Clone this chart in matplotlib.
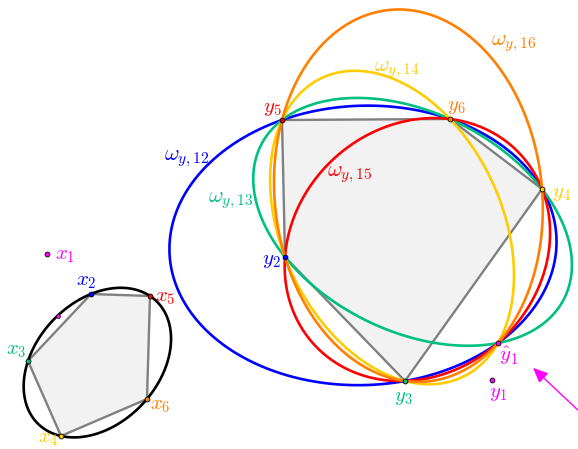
import numpy as np
import matplotlib
matplotlib.use("Agg")
import matplotlib.pyplot as plt

plt.rcParams['mathtext.fontset'] = 'cm'

# point positions (pixel coords, y downwards)
x_pts = {1: (47, 254), 2: (91, 294), 3: (28, 361), 4: (61, 436), 5: (150, 296), 6: (147, 399)}
x_hat1 = (58, 316)
y_pts = {1: (492, 380), 2: (285, 257), 3: (405, 381), 4: (542, 189), 5: (282, 120), 6: (450, 119)}
y_hat1 = (498, 343)

x_poly = [2, 5, 6, 4, 3]
y_poly = [5, 6, 4, 3, 2]

pt_colors = {1: '#ff00ff', 2: '#0000ff', 3: '#00c080', 4: '#ffcc00', 5: '#ff0000', 6: '#ff8000'}

# label offsets (dx, dy) from the point
x_lab = {1: (18, 1), 2: (-5, -13), 3: (-12, -11), 4: (-13, 2), 5: (15, 1), 6: (13, 6)}
y_lab = {1: (6, 13), 2: (-14, 3), 3: (-2, 16), 4: (20, 4), 5: (-10, -12), 6: (6, -13)}

omega_ids = [2, 3, 4, 5, 6]
omega_lab = {2: (187, 159), 3: (231, 201), 4: (397, 70), 5: (350, 175), 6: (514, 44)}


def conic(pts):
    pts = (np.asarray(pts, float) - 300.0) / 300.0
    x, y = pts[:, 0], pts[:, 1]
    A = np.column_stack([x * x, x * y, y * y, x, y, np.ones_like(x)])
    _, _, vt = np.linalg.svd(A)
    return vt[-1]


def eval_conic(c, X, Y):
    u, v = (X - 300.0) / 300.0, (Y - 300.0) / 300.0
    return c[0] * u * u + c[1] * u * v + c[2] * v * v + c[3] * u + c[4] * v + c[5]


fig = plt.figure(figsize=(5.78, 4.49), dpi=100)
ax = fig.add_axes([0, 0, 1, 1])
ax.set_xlim(0, 578)
ax.set_ylim(449, 0)
ax.axis('off')

gx, gy = np.meshgrid(np.linspace(-50, 650, 1400), np.linspace(-50, 500, 1100))

# polygons
for pts, order in [(x_pts, x_poly), (y_pts, y_poly)]:
    P = np.array([pts[i] for i in order])
    ax.fill(P[:, 0], P[:, 1], color='#f2f2f2', zorder=1)
    ax.plot(np.r_[P[:, 0], P[0, 0]], np.r_[P[:, 1], P[0, 1]], color='#808080', lw=1.7, zorder=2)

# black conic through x2..x6
c = conic([x_pts[i] for i in x_poly])
ax.contour(gx, gy, eval_conic(c, gx, gy), levels=[0], colors='black', linewidths=1.9, zorder=3)

# omega_{y,1j}: conic through y_hat1 and all y_k except y1, yj
for j in omega_ids:
    pts = [y_hat1] + [y_pts[k] for k in y_poly if k != j]
    c = conic(pts)
    ax.contour(gx, gy, eval_conic(c, gx, gy), levels=[0], colors=pt_colors[j], linewidths=1.9, zorder=3)
    ax.text(*omega_lab[j], r'$\omega_{y,1%d}$' % j, color=pt_colors[j], fontsize=16,
            ha='center', va='center', zorder=5)

# points and labels
for name, pts, labs in [('x', x_pts, x_lab), ('y', y_pts, y_lab)]:
    for i, (px, py) in pts.items():
        ax.plot(px, py, 'o', ms=3.5, mfc=pt_colors[i], mec='black', mew=0.6, zorder=6)
        dx, dy = labs[i]
        ax.text(px + dx, py + dy, r'$%s_%d$' % (name, i), color=pt_colors[i], fontsize=15,
                ha='center', va='center', zorder=6)

ax.plot(*x_hat1, 'o', ms=3, mfc='#ff00ff', mec='black', mew=0.4, zorder=6)
ax.plot(*y_hat1, 'o', ms=3.5, mfc='#ff00ff', mec='black', mew=0.6, zorder=6)
ax.text(y_hat1[0] + 11, y_hat1[1] + 13, r'$\hat{y}_1$', color='#ff00ff', fontsize=15,
        ha='center', va='center', zorder=6)

# arrow pointing at y_hat1 region
ax.annotate('', xy=(531, 366), xytext=(580, 412),
            arrowprops=dict(arrowstyle='-|>,head_length=0.9,head_width=0.4', color='#ff00ff', lw=1.0),
            zorder=6)

fig.savefig('out.png', dpi=100)
